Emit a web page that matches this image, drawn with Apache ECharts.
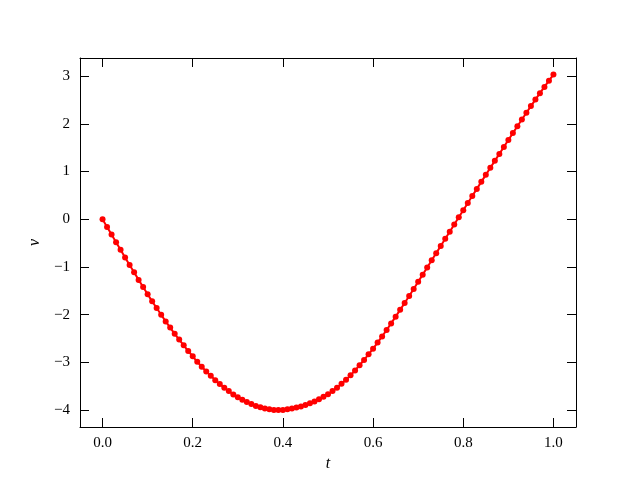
<!DOCTYPE html>
<html>
<head>
<meta charset="utf-8">
<script src="https://cdn.jsdelivr.net/npm/echarts@6/dist/echarts.min.js"></script>
<style>html,body{margin:0;padding:0;background:#fff}#c{width:640px;height:480px}</style>
</head>
<body>
<div id="c"></div>
<script>
var tValues = [0.00,0.01,0.02,0.03,0.04,0.05,0.06,0.07,0.08,0.09,0.10,0.11,0.12,0.13,0.14,0.15,0.16,0.17,0.18,0.19,0.20,0.21,0.22,0.23,0.24,0.25,0.26,0.27,0.28,0.29,0.30,0.31,0.32,0.33,0.34,0.35,0.36,0.37,0.38,0.39,0.40,0.41,0.42,0.43,0.44,0.45,0.46,0.47,0.48,0.49,0.50,0.51,0.52,0.53,0.54,0.55,0.56,0.57,0.58,0.59,0.60,0.61,0.62,0.63,0.64,0.65,0.66,0.67,0.68,0.69,0.70,0.71,0.72,0.73,0.74,0.75,0.76,0.77,0.78,0.79,0.80,0.81,0.82,0.83,0.84,0.85,0.86,0.87,0.88,0.89,0.90,0.91,0.92,0.93,0.94,0.95,0.96,0.97,0.98,0.99,1.00];
var vValues = [0,-0.16,-0.32,-0.48,-0.64,-0.80,-0.96,-1.11,-1.27,-1.42,-1.57,-1.72,-1.86,-2.00,-2.14,-2.27,-2.40,-2.52,-2.64,-2.76,-2.87,-2.985,-3.09,-3.19,-3.28,-3.37,-3.45,-3.53,-3.60,-3.67,-3.73,-3.78,-3.83,-3.87,-3.91,-3.94,-3.965,-3.982,-3.993,-3.997,-3.993,-3.982,-3.965,-3.945,-3.92,-3.89,-3.855,-3.815,-3.77,-3.72,-3.665,-3.60,-3.528,-3.446,-3.36,-3.27,-3.166,-3.058,-2.946,-2.83,-2.71,-2.584,-2.454,-2.32,-2.182,-2.04,-1.898,-1.754,-1.608,-1.46,-1.31,-1.16,-1.01,-0.86,-0.71,-0.56,-0.41,-0.26,-0.11,0.04,0.19,0.339,0.488,0.636,0.783,0.93,1.077,1.223,1.369,1.515,1.66,1.804,1.947,2.089,2.23,2.37,2.507,2.641,2.772,2.902,3.03];
var xTicks = [0.0,0.2,0.4,0.6,0.8,1.0];
var yTicks = [-4,-3,-2,-1,0,1,2,3];
var xLabel = 't';
var yLabel = 'v';

var font = '"Liberation Serif", "DejaVu Serif", serif';
var xRange = [-0.05, 1.05];
var yRange = [-4.3515, 3.3775];

function xAxisCfg(pos, show) {
  return {
    type: 'value', position: pos, min: xRange[0], max: xRange[1],
    name: show ? xLabel : '', nameLocation: 'middle', nameGap: 26,
    nameTextStyle: {fontFamily: font, fontStyle: 'italic', fontSize: 16, color: '#000'},
    axisLine: {show: true, onZero: false, lineStyle: {color: '#000', width: 1}},
    axisTick: {show: true, inside: true, length: 9, customValues: xTicks, lineStyle: {color: '#000', width: 1}},
    axisLabel: {show: show, customValues: xTicks, margin: 9, fontFamily: font, fontSize: 15, color: '#000',
      formatter: function (v) { return v.toFixed(1); }},
    splitLine: {show: false}
  };
}
function yAxisCfg(pos, show) {
  return {
    type: 'value', position: pos, min: yRange[0], max: yRange[1],
    name: show ? yLabel : '', nameLocation: 'middle', nameGap: 36, nameRotate: 90,
    nameTextStyle: {fontFamily: font, fontStyle: 'italic', fontSize: 16, color: '#000'},
    axisLine: {show: true, onZero: false, lineStyle: {color: '#000', width: 1}},
    axisTick: {show: true, inside: true, length: 9, customValues: yTicks, lineStyle: {color: '#000', width: 1}},
    axisLabel: {show: show, customValues: yTicks, margin: 10, fontFamily: font, fontSize: 15, color: '#000',
      formatter: function (v) { return v < 0 ? '\u2212' + Math.abs(v) : String(v); }},
    splitLine: {show: false}
  };
}

var data = tValues.map(function (t, i) { return [t, vValues[i]]; });

var chart = echarts.init(document.getElementById('c'), null, {renderer: 'canvas'});
chart.setOption({
  animation: false,
  backgroundColor: '#fff',
  grid: {left: 80, right: 64, top: 58, bottom: 53, containLabel: false},
  xAxis: [xAxisCfg('bottom', true), xAxisCfg('top', false)],
  yAxis: [yAxisCfg('left', true), yAxisCfg('right', false)],
  series: [{
    type: 'line', xAxisIndex: 0, yAxisIndex: 0, data: data,
    symbol: 'circle', symbolSize: 6, showSymbol: true,
    lineStyle: {color: '#ff0000', width: 2},
    itemStyle: {color: '#ff0000', borderWidth: 0}
  }]
});
</script>
</body>
</html>
